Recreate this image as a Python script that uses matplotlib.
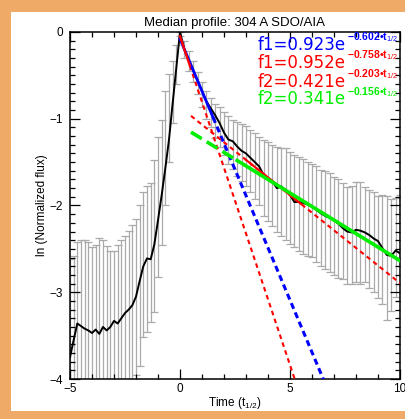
import numpy as np
import matplotlib
matplotlib.use("Agg")
import matplotlib.pyplot as plt
from matplotlib.ticker import MultipleLocator

plt.rcParams['font.family'] = ['Liberation Sans', 'DejaVu Sans']
plt.rcParams['mathtext.fontset'] = 'custom'
plt.rcParams['mathtext.rm'] = 'Liberation Sans'
plt.rcParams['mathtext.it'] = 'Liberation Sans'
plt.rcParams['mathtext.bf'] = 'Liberation Sans:bold'

# ---- median profile, rise phase (t in units of t_1/2) ----
t_rise = [-5.0, -4.833, -4.667, -4.5, -4.333, -4.167, -4.0, -3.833, -3.667, -3.5,
          -3.333, -3.167, -3.0, -2.833, -2.667, -2.5, -2.333, -2.167, -2.0, -1.833,
          -1.667, -1.5, -1.333, -1.167, -1.0, -0.833, -0.667, -0.5, -0.333, -0.167]
med_rise = [-3.75, -3.55, -3.36, -3.39, -3.42, -3.44, -3.47, -3.43, -3.48, -3.40,
            -3.44, -3.40, -3.33, -3.36, -3.30, -3.24, -3.20, -3.15, -3.05, -2.87,
            -2.70, -2.61, -2.62, -2.45, -2.17, -1.88, -1.57, -1.24, -0.82, -0.41]
up_rise = [-2.62, -2.58, -2.42, -2.40, -2.40, -2.42, -2.48, -2.45, -2.38, -2.40,
           -2.47, -2.52, -2.52, -2.45, -2.40, -2.35, -2.29, -2.22, -2.16, -1.99,
           -1.84, -1.77, -1.74, -1.48, -1.21, -1.02, -0.68, -0.48, -0.34, -0.15]
lo_rise = [-4.6, -4.6, -4.6, -4.6, -4.6, -4.6, -4.6, -4.6, -4.6, -4.6,
           -4.6, -4.6, -4.6, -4.6, -4.6, -4.6, -4.6, -4.6, -3.95, -3.85,
           -3.52, -3.46, -3.34, -3.23, -2.82, -2.45, -2.00, -1.50, -1.05, -0.60]

# ---- median profile, decay phase ----
t_decay = [0.0, 0.2, 0.4, 0.6, 0.8, 1.0, 1.2, 1.4, 1.6, 1.8, 2.0, 2.2, 2.4, 2.6, 2.8,
           3.0, 3.2, 3.4, 3.6, 3.8, 4.0, 4.2, 4.4, 4.6, 4.8, 5.0, 5.2, 5.4, 5.6, 5.8,
           6.0, 6.2, 6.4, 6.6, 6.8, 7.0, 7.2, 7.4, 7.6, 7.8, 8.0, 8.2, 8.4, 8.6, 8.8,
           9.0, 9.2, 9.4, 9.6, 9.8, 10.0]
med_decay = [0.0, -0.20, -0.32, -0.44, -0.56, -0.68, -0.80, -0.88, -0.96, -1.05, -1.16,
             -1.24, -1.26, -1.32, -1.37, -1.40, -1.45, -1.50, -1.55, -1.65, -1.68,
             -1.72, -1.80, -1.78, -1.82, -1.88, -1.96, -1.96, -1.97, -1.99, -2.01,
             -2.05, -2.09, -2.12, -2.14, -2.17, -2.21, -2.26, -2.30, -2.31, -2.28,
             -2.29, -2.31, -2.34, -2.38, -2.41, -2.49, -2.57, -2.58, -2.52, -2.55]
up_decay = [0.0, -0.10, -0.22, -0.34, -0.46, -0.58, -0.68, -0.76, -0.83, -0.87, -0.92,
            -0.97, -1.01, -1.04, -1.06, -1.08, -1.13, -1.17, -1.21, -1.24, -1.27,
            -1.30, -1.32, -1.34, -1.34, -1.38, -1.42, -1.44, -1.46, -1.50, -1.52,
            -1.55, -1.59, -1.60, -1.63, -1.67, -1.70, -1.74, -1.79, -1.78, -1.73,
            -1.73, -1.79, -1.82, -1.85, -1.89, -1.88, -1.89, -1.92, -1.91, -1.88]
lo_decay = [-0.05, -0.30, -0.45, -0.58, -0.72, -0.86, -1.00, -1.10, -1.22, -1.32, -1.42,
            -1.52, -1.58, -1.66, -1.72, -1.77, -1.84, -1.92, -2.00, -2.12, -2.18,
            -2.24, -2.31, -2.35, -2.40, -2.44, -2.48, -2.52, -2.56, -2.58, -2.59,
            -2.65, -2.70, -2.73, -2.77, -2.80, -2.83, -2.85, -2.90, -2.90, -2.88,
            -2.90, -2.88, -2.95, -3.00, -3.07, -3.14, -3.32, -3.22, -3.06, -3.10]

# ---- exponential fits f = A exp(-k t) ----
fit_names = ['f1', 'f1', 'f2', 'f2']
fit_amp = [0.923, 0.952, 0.421, 0.341]
fit_rate = [0.602, 0.758, 0.203, 0.156]
fit_colors = ['#0000ff', '#ff0000', '#ff0000', '#00ee00']

t = np.array(t_rise + t_decay)
med = np.array(med_rise + med_decay)
up = np.array(up_rise + up_decay)
lo = np.array(lo_rise + lo_decay)

W, H = 406, 419
fig = plt.figure(figsize=(W / 100, H / 100), dpi=100, facecolor='#eeaa66')
# white panel behind the plot
panel = fig.add_axes([11 / W, 8 / H, 395 / W, 399 / H], zorder=-5)
panel.set_facecolor('white')
panel.set_xticks([])
panel.set_yticks([])
for s in panel.spines.values():
    s.set_visible(False)

ax = fig.add_axes([70 / W, 40 / H, 330 / W, 347 / H], zorder=1)
ax.set_facecolor('white')

ax.errorbar(t, med, yerr=[med - lo, up - med], fmt='none', ecolor='#aaaaaa',
            elinewidth=0.9, capsize=2.6, capthick=0.9, zorder=1)
ax.plot(t, med, color='black', lw=1.4, zorder=3)


def fit_line(i, t0, t1, **kw):
    tt = np.linspace(t0, t1, 200)
    yy = np.log(fit_amp[i]) - fit_rate[i] * tt
    ax.plot(tt, yy, color=fit_colors[i], **kw)


# blue f1: fitted part solid, extrapolation dashed
fit_line(0, 1.5, 7.0, lw=2.2, ls=(0, (2.0, 1.3)), zorder=4)
fit_line(0, 0.0, 1.5, lw=2.0, zorder=5)
# red f1
fit_line(1, 0.45, 6.0, lw=1.5, ls=(0, (2.2, 1.8)), zorder=4)
fit_line(1, 0.0, 0.45, lw=1.7, zorder=6)
# red f2
fit_line(2, 0.5, 10.0, lw=1.5, ls=(0, (2.2, 1.8)), zorder=4)
fit_line(2, 3.0, 5.5, lw=1.5, zorder=4)
# green f2
fit_line(3, 0.5, 2.6, lw=2.6, ls=(0, (3.5, 1.6)), zorder=4)
fit_line(3, 2.6, 10.0, lw=2.6, zorder=4)

ax.set_xlim(-5, 10)
ax.set_ylim(-4, 0)
ax.xaxis.set_major_locator(MultipleLocator(5))
ax.xaxis.set_minor_locator(MultipleLocator(1))
ax.yaxis.set_major_locator(MultipleLocator(1))
ax.yaxis.set_minor_locator(MultipleLocator(0.1))
ax.tick_params(which='both', direction='in', top=True, right=True,
               labelsize=8.5, width=0.9)
ax.tick_params(axis='x', pad=3)
ax.tick_params(axis='y', pad=5)
ax.tick_params(which='major', length=7)
ax.tick_params(which='minor', length=3.5)
for s in ax.spines.values():
    s.set_linewidth(1.1)

ax.set_title('Median profile: 304 A SDO/AIA', fontsize=9.5, pad=4)
ax.set_xlabel('Time (t$_{1/2}$)', fontsize=8.5, labelpad=0)
ax.set_ylabel('ln (Normalized flux)', fontsize=8.5, labelpad=1)

# fit equations: base text plus a small raised exponent
renderer = fig.canvas.get_renderer()
ys = [0.963, 0.910, 0.857, 0.806]
for i in range(4):
    expo = ax.text(0.995, ys[i] + 0.022,
                   f'\u2212{fit_rate[i]:.3f}\u2022t$_{{1/2}}$',
                   transform=ax.transAxes, ha='right', va='center',
                   color=fit_colors[i], fontsize=7.5, fontweight='bold', zorder=7)
    bb = expo.get_window_extent(renderer)
    x_left = ax.transAxes.inverted().transform((bb.x0 - 1.5, bb.y0))[0]
    ax.text(x_left, ys[i], f'{fit_names[i]}={fit_amp[i]:.3f}e',
            transform=ax.transAxes, ha='right', va='center',
            color=fit_colors[i], fontsize=12, family='DejaVu Sans', zorder=7)

fig.savefig('out.png', dpi=100, facecolor=fig.get_facecolor())
